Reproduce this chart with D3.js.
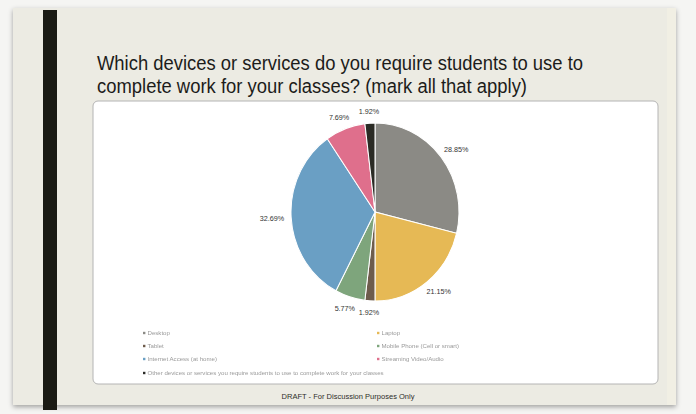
<!DOCTYPE html>
<html>
<head>
<meta charset="utf-8">
<script src="https://cdn.jsdelivr.net/npm/d3@7"></script>
<style>
  html, body { margin: 0; padding: 0; background: #f5f5f3; }
  svg { display: block; }
</style>
</head>
<body>
<svg id="chart" width="696" height="414"></svg>
<script>
// Survey answers: share of responses per device / service
const categories = [
  "Desktop",
  "Laptop",
  "Tablet",
  "Mobile Phone (Cell or smart)",
  "Internet Access (at home)",
  "Streaming Video/Audio",
  "Other devices or services you require students to use to complete work for your classes"
];
const shares = [28.85, 21.15, 1.92, 5.77, 32.69, 7.69, 1.92];
const colors = ["#8b8a85", "#e6b955", "#6e5c4c", "#7ea57c", "#6a9fc4", "#df6f8c", "#2b2b25"];
const titleLines = [
  "Which devices or services do you require students to use to",
  "complete work for your classes? (mark all that apply)"
];
const footerText = "DRAFT - For Discussion Purposes Only";

const svg = d3.select("#chart");

// slide background with soft shadow
const defs = svg.append("defs");
const sh = defs.append("filter").attr("id", "shadow").attr("x", "-5%").attr("y", "-5%").attr("width", "110%").attr("height", "115%");
sh.append("feDropShadow").attr("dx", 0).attr("dy", 2).attr("stdDeviation", 2.5).attr("flood-color", "#000").attr("flood-opacity", 0.35);
const soft = defs.append("filter").attr("id", "soft");
soft.append("feGaussianBlur").attr("stdDeviation", 0.45);

svg.append("rect")
  .attr("x", 13).attr("y", 8).attr("width", 663).attr("height", 397)
  .attr("fill", "#ecebe3").attr("filter", "url(#shadow)");
svg.append("rect")
  .attr("x", 667).attr("y", 8).attr("width", 9).attr("height", 397)
  .attr("fill", "#f1efe4");
svg.append("rect")
  .attr("x", 43).attr("y", 10).attr("width", 14).attr("height", 400)
  .attr("fill", "#1a1a14");

// title
svg.append("g").selectAll("text")
  .data(titleLines)
  .join("text")
  .attr("x", 97)
  .attr("y", (d, i) => 70 + i * 23)
  .attr("font-family", "Liberation Sans, Arial, sans-serif")
  .attr("font-size", 19.5)
  .attr("fill", "#1c1c1a")
  .attr("textLength", (d, i) => i === 0 ? 486 : 430)
  .attr("lengthAdjust", "spacingAndGlyphs")
  .text(d => d);

// white chart panel
svg.append("rect")
  .attr("x", 93).attr("y", 101).attr("width", 565).attr("height", 283)
  .attr("rx", 5).attr("ry", 5)
  .attr("fill", "#ffffff").attr("stroke", "#b4b4b4").attr("stroke-width", 1);

// pie
const cx = 375, cy = 212, R = 84, sy = 1.06;
const pie = d3.pie().sort(null).value(d => d)(shares);
const arc = d3.arc().innerRadius(0).outerRadius(R);

const pg = svg.append("g").attr("transform", `translate(${cx},${cy}) scale(1,${sy})`);
pg.selectAll("path")
  .data(pie)
  .join("path")
  .attr("d", arc)
  .attr("fill", (d, i) => colors[i])
  .attr("stroke", "#ffffff")
  .attr("stroke-width", 1);

// outside-end value labels
const fmt = d3.format(".2f");
const labelSize = 7.2, gap = 8;
const lg = svg.append("g");
pie.forEach((d, i) => {
  const txt = fmt(shares[i]) + "%";
  const a = (d.startAngle + d.endAngle) / 2;
  const w = txt.length * labelSize * 0.52, h = labelSize;
  const px = Math.sin(a) * (R + gap) + Math.sin(a) * w / 2;
  const py = -Math.cos(a) * (R + gap) * sy - Math.cos(a) * h / 2;
  lg.append("text")
    .attr("x", cx + px)
    .attr("y", cy + py + h * 0.35)
    .attr("text-anchor", "middle")
    .attr("font-family", "Liberation Sans, Arial, sans-serif")
    .attr("font-size", labelSize)
    .attr("fill", "#333333")
    .text(txt);
});

// legend, two columns
const legend = svg.append("g").attr("filter", "url(#soft)");
const colX = [143, 377], rowY = [335, 348, 361, 375];
categories.forEach((c, i) => {
  const x = colX[i % 2], y = rowY[Math.floor(i / 2)];
  legend.append("rect")
    .attr("x", x).attr("y", y - 3.2).attr("width", 2.4).attr("height", 2.4)
    .attr("fill", colors[i]);
  legend.append("text")
    .attr("x", x + 4.5).attr("y", y)
    .attr("font-family", "Liberation Sans, Arial, sans-serif")
    .attr("font-size", 6.1)
    .attr("fill", "#9a9a9a")
    .text(c);
});

// footer
svg.append("text")
  .attr("x", 348).attr("y", 399)
  .attr("text-anchor", "middle")
  .attr("font-family", "Liberation Sans, Arial, sans-serif")
  .attr("font-size", 7.6)
  .attr("fill", "#2e2e2a")
  .attr("textLength", 133)
  .attr("lengthAdjust", "spacingAndGlyphs")
  .text(footerText);
</script>
</body>
</html>
